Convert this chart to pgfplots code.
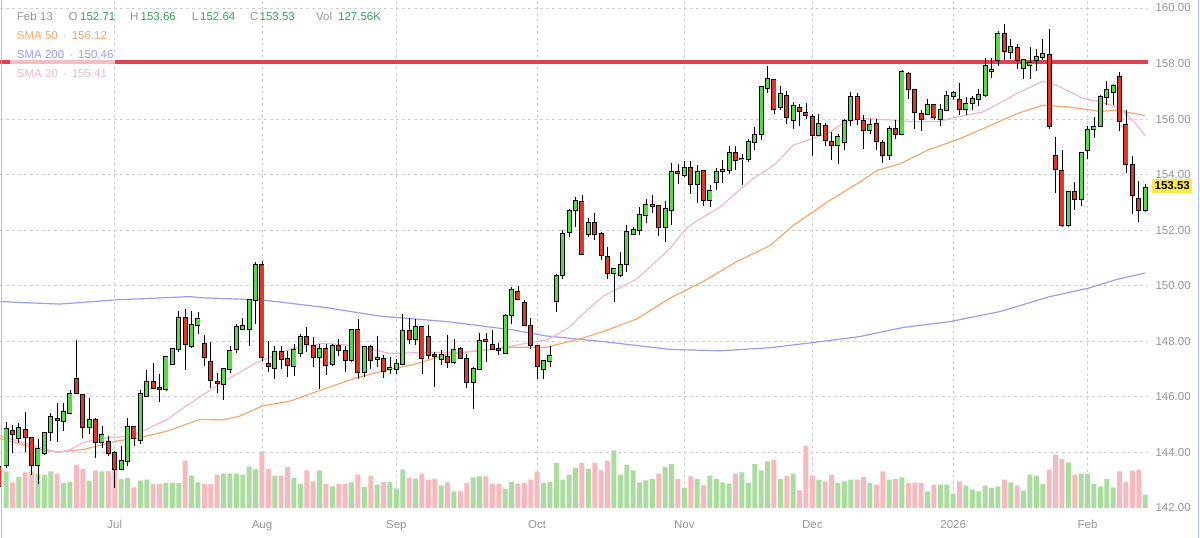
\documentclass[border=0pt]{standalone}
\usepackage{fontspec}
\setmainfont{Liberation Sans}
\usepackage{pgfplots}
\usepackage{pgfplotstable}
\pgfplotsset{compat=1.18}

\definecolor{upc}{RGB}{92,214,74}
\definecolor{dnc}{RGB}{222,56,40}
\definecolor{volup}{RGB}{170,220,160}
\definecolor{voldn}{RGB}{245,185,190}
\definecolor{smaA}{RGB}{245,168,110}
\definecolor{smaB}{RGB}{156,156,240}
\definecolor{smaC}{RGB}{238,182,214}
\definecolor{resline}{RGB}{221,66,84}
\definecolor{txtgray}{RGB}{150,150,150}
\definecolor{numgreen}{RGB}{52,160,90}
\definecolor{tagc}{RGB}{255,234,70}
\definecolor{framec}{RGB}{165,198,240}
\definecolor{gridc}{RGB}{208,208,208}

\pgfplotstableread{
i o h l c v
1 143.53 145.10 143.45 144.83 352
3 144.53 145.05 144.35 144.89 298
6 143.53 144.50 142.85 144.11 330
7 143.97 144.71 143.90 144.71 320
8 144.74 145.41 144.41 145.28 352
10 145.13 145.77 144.77 145.47 240
11 145.41 146.25 145.38 146.09 250
14 144.93 145.97 144.65 145.17 262
16 144.38 144.95 144.17 144.64 352
19 143.39 144.23 143.37 143.68 278
20 143.68 145.25 143.51 144.93 288
22 144.45 146.25 144.29 146.09 262
23 146.03 146.97 146.00 146.54 272
26 146.27 147.47 146.21 147.45 240
27 147.18 147.75 147.15 147.72 240
28 147.72 149.10 147.60 148.83 240
30 147.84 149.10 147.75 148.60 310
31 148.58 149.06 148.26 148.82 246
35 146.45 147.04 145.90 147.02 330
36 147.02 147.84 146.85 147.66 330
37 147.72 148.62 147.57 148.52 330
38 148.45 148.84 148.40 148.55 320
39 148.44 149.52 147.84 149.48 400
40 149.50 150.84 148.62 150.75 374
43 147.05 147.84 146.63 147.62 310
46 147.12 147.90 146.75 147.69 288
47 147.57 148.26 147.42 148.16 230
50 147.42 147.90 146.27 147.72 362
52 147.18 147.90 147.10 147.84 208
55 147.33 148.41 147.24 148.41 246
57 146.88 147.84 146.70 147.78 202
59 147.36 148.20 147.06 147.40 224
61 147.02 147.43 146.83 147.05 250
62 147.01 147.37 146.83 147.19 186
63 147.19 148.99 147.15 148.36 368
65 148.09 148.79 147.85 148.51 282
69 147.35 147.67 147.13 147.49 218
71 147.25 148.09 147.19 147.67 160
74 146.53 147.07 145.57 146.99 294
75 146.99 148.31 146.97 148.01 304
79 147.59 149.00 147.55 148.91 186
80 148.93 149.96 148.63 149.84 250
85 146.99 147.31 146.65 147.28 240
86 147.28 147.83 147.07 147.47 250
87 149.44 150.44 149.04 150.35 432
88 150.38 152.00 150.26 151.88 272
89 151.92 152.78 151.76 152.70 320
90 152.72 153.20 152.12 153.05 384
92 151.87 152.44 151.75 152.27 374
96 150.46 150.63 149.41 150.61 554
97 150.39 151.21 150.31 150.73 320
98 150.79 152.20 150.49 151.93 416
99 151.87 152.11 151.83 151.99 362
100 151.99 152.83 151.81 152.56 246
101 152.56 153.13 152.27 152.89 266
102 152.88 153.28 152.63 152.90 278
104 152.11 153.04 151.57 152.75 394
105 152.71 154.43 152.17 154.09 422
107 153.97 154.48 153.91 154.24 192
109 153.67 154.33 152.99 154.09 278
111 153.07 153.61 152.83 153.40 310
112 153.73 154.24 153.43 154.09 278
113 154.13 154.51 153.71 154.16 246
114 154.15 155.03 154.03 154.79 234
116 154.55 154.75 153.64 154.58 342
117 154.57 155.30 154.45 155.18 240
118 155.18 155.72 154.87 155.44 422
119 155.48 157.16 155.24 157.16 362
120 157.12 157.92 156.95 157.43 448
122 156.44 157.19 156.32 156.92 278
124 155.96 156.62 155.66 156.47 330
128 155.42 156.20 155.39 155.84 272
131 155.06 155.48 154.37 155.36 240
132 155.18 155.99 154.87 155.92 256
133 155.96 156.98 155.75 156.80 272
136 155.60 156.02 155.48 155.80 240
139 154.72 155.75 154.51 155.66 272
141 155.48 157.76 155.46 157.70 294
145 156.20 156.74 156.16 156.50 160
147 156.02 156.56 155.75 156.32 224
148 156.32 157.00 156.30 156.83 224
149 156.83 157.00 156.68 156.95 138
151 156.35 156.80 156.14 156.56 214
152 156.59 156.83 156.32 156.74 176
153 156.74 157.07 156.47 156.86 160
154 156.86 158.20 156.80 157.92 214
155 157.74 158.20 157.48 157.78 192
156 158.12 159.17 157.92 159.08 208
158 158.40 158.88 158.18 158.60 246
160 157.84 158.16 157.44 158.12 166
161 157.95 158.60 157.46 158.02 320
162 158.12 158.54 157.72 158.24 310
163 158.24 158.88 158.12 158.36 230
167 152.17 153.40 152.10 153.37 438
169 153.11 154.81 152.87 154.78 330
170 154.88 155.75 154.57 155.60 330
171 155.66 156.08 155.32 155.70 230
172 155.75 156.88 155.72 156.80 208
173 156.80 157.36 156.52 157.04 278
174 156.98 157.28 156.52 157.19 198
179 152.71 153.66 152.64 153.53 127.56
}\up

\pgfplotstableread{
i o h l c v
0 143.48 143.55 142.72 142.78 0
2 144.77 144.98 143.99 144.65 246
4 144.81 145.47 144.01 144.57 342
5 144.53 144.55 143.20 143.53 352
9 145.20 145.77 144.37 145.18 330
12 146.63 148.05 146.10 146.13 416
13 146.06 146.08 144.53 144.92 374
15 145.17 145.25 143.81 144.38 362
17 144.38 144.59 143.87 143.99 352
18 143.97 144.05 142.73 143.41 368
21 144.93 144.95 144.23 144.53 198
24 146.54 147.21 146.30 146.33 230
25 146.31 146.81 145.80 146.29 230
29 148.83 149.16 146.96 147.90 454
32 147.90 148.22 147.12 147.42 230
33 147.27 147.96 146.33 146.61 230
34 146.55 146.85 146.15 146.50 320
41 150.75 150.90 147.30 147.42 544
42 147.20 148.00 146.90 147.10 374
44 147.62 147.84 147.00 147.38 310
45 147.36 147.66 146.70 147.14 394
48 148.16 148.50 147.60 147.90 362
49 147.84 148.16 147.09 147.42 256
51 147.74 147.90 146.78 147.14 230
53 147.84 148.10 147.48 147.68 230
54 147.66 147.84 146.90 147.33 230
56 148.41 148.80 146.63 146.90 320
58 147.78 147.86 147.02 147.33 310
60 147.37 147.50 146.68 146.94 250
64 148.36 148.84 147.91 148.09 288
66 148.51 148.55 146.83 147.40 330
67 148.15 148.57 147.37 147.52 272
68 147.52 147.61 146.35 147.48 282
70 147.43 148.21 147.04 147.25 250
72 147.73 147.79 147.37 147.40 160
73 147.37 147.55 146.31 146.53 240
76 148.05 148.31 147.25 148.01 304
77 147.88 148.39 147.70 147.73 234
78 147.72 147.95 147.52 147.70 234
81 149.78 149.99 149.48 149.51 234
82 149.39 149.48 148.55 148.57 240
83 148.55 148.84 147.71 147.85 272
84 147.83 147.85 146.63 147.11 349
91 153.01 153.28 151.10 151.15 432
93 152.27 152.63 151.63 151.87 432
94 151.87 151.93 150.91 151.09 362
95 151.03 151.39 150.25 150.46 454
103 152.87 152.90 151.79 152.11 330
106 154.09 154.39 153.67 154.05 278
108 154.24 154.48 153.31 153.67 304
110 154.12 154.14 152.87 153.07 218
115 154.79 155.03 154.15 154.51 330
121 157.40 157.42 156.20 156.35 464
123 156.83 157.00 155.84 156.08 310
125 156.41 156.56 155.75 156.29 170
126 156.23 156.59 156.02 156.14 598
127 156.08 156.20 154.67 155.44 310
129 155.75 155.87 155.03 155.24 256
130 155.18 155.54 154.51 155.06 320
134 156.80 156.95 155.78 156.02 272
135 155.92 156.14 154.94 155.60 298
137 155.84 156.02 154.87 155.20 224
138 155.14 155.24 154.43 154.72 352
140 155.66 155.96 155.30 155.48 278
142 157.64 157.70 156.74 157.07 240
143 157.04 157.06 155.66 156.26 240
144 156.20 156.32 155.56 155.99 240
146 156.52 156.54 155.96 156.08 224
150 156.70 157.31 156.14 156.38 256
157 159.08 159.44 158.12 158.44 272
159 158.56 158.69 157.82 158.12 214
164 158.30 159.24 155.66 155.75 368
165 154.67 155.36 153.35 154.19 512
166 154.12 154.88 152.11 152.17 470
168 153.37 153.73 152.71 153.11 320
175 157.52 157.68 155.56 155.92 352
176 155.78 156.32 154.07 154.39 250
177 154.36 154.67 152.59 153.28 358
178 153.11 153.76 152.29 152.71 368
}\dn

\pgfplotsset{
  /pgf/number format/.cd, fixed, fixed zerofill, precision=2, assume math mode=true,
  /pgfplots/.cd,
  base/.style={scale only axis, width=1148pt, height=508pt,
    xmin=0.0625, xmax=179.44, at={(0pt,0pt)}, anchor=south west},
  nomark/.style={only marks, mark=none, mark size=0pt,
    mark options={draw=none, fill=none}, forget plot},
  wick/.style={nomark,
    error bars/.cd, y dir=minus, y explicit, error mark=none,
    error bar style={draw=black, line width=0.9pt}},
  body/.style 2 args={nomark,
    error bars/.cd, y dir=minus, y explicit, error mark=none,
    error bar style={draw=#1, line width=#2}},
}

\begin{document}
\begin{tikzpicture}
\useasboundingbox (0pt,-30pt) rectangle (1200pt,508pt);

% grid and tick labels
\begin{axis}[base, ymin=142, ymax=160.287,
  axis line style={draw=none}, major tick length=0pt,
  xtick={18,41,62,84,107,127,149,170},
  xticklabels={Jul,Aug,Sep,Oct,Nov,Dec,2026,Feb},
  ytick={144,146,...,160}, extra y ticks={142},
  extra y tick style={grid=none},
  yticklabel pos=right,
  grid=major,
  major grid style={gridc, dash pattern=on 3pt off 3pt, line width=0.8pt},
  tick label style={font=\fontsize{11.5}{13}\selectfont, text=txtgray},
  yticklabel style={anchor=west, xshift=4pt},
  xticklabel style={anchor=base, yshift=-20pt},
]
\addplot[draw=none, forget plot] coordinates {(1,150)};
\end{axis}

% volume
\begin{axis}[base, ymin=0, ymax=4876.8, hide axis, ybar, bar width=5pt, bar shift=0pt]
\addplot[fill=volup, draw=none] table[x=i, y=v]{\up};
\addplot[fill=voldn, draw=none] table[x=i, y=v]{\dn};
\end{axis}

% price
\begin{axis}[base, ymin=142, ymax=160.287, hide axis, clip mode=individual]
\addplot[resline, line width=4pt] coordinates {(0,158.07) (180,158.07)};
% SMA 200
\addplot[smaB, line width=1.2pt] coordinates {
(0.06,149.43) (9.4,149.34) (18.0,149.49) (29.75,149.61) (31.3,149.57) (41,149.49)
(50.5,149.23) (59.4,148.91) (69.9,148.71) (80.2,148.41) (85.5,148.19) (90.7,148.07)
(94.3,147.99) (104.7,147.71) (112.6,147.66) (120.4,147.77) (126.9,147.95) (134.4,148.17)
(141.2,148.5) (148.5,148.71) (156.3,149.07) (164.1,149.61) (170.1,149.91) (174.6,150.23)
(179,150.46)};
% SMA 50
\addplot[smaA, line width=1.2pt] coordinates {
(0.06,144.5) (6.8,144.08) (9.1,144.02) (13,144.1) (18.3,144.41) (21.9,144.53)
(26.2,144.77) (31.3,145.19) (34.9,145.17) (37.6,145.31) (41,145.67) (45.4,145.85)
(50.5,146.27) (55.8,146.69) (61,146.99) (64.6,147.16) (69.9,147.52) (75.1,147.67)
(80.2,147.79) (85.5,147.79) (90.7,148.09) (94.3,148.35) (99.6,148.81) (104.7,149.55)
(109.9,150.15) (115.2,150.87) (120.4,151.45) (124,152.17) (129.3,153.01) (134.4,153.73)
(137.1,154.15) (140.7,154.39) (144.9,154.87) (150.1,155.3) (153.7,155.66) (159,156.2)
(163,156.5) (166.8,156.44) (171.9,156.28) (174.6,156.32) (179,156.12)};
% SMA 20
\addplot[smaC, line width=1.2pt] coordinates {
(0.06,144.6) (5.2,144.25) (9.1,144.0) (11,144.1) (13,144.35) (15.7,144.5) (20.8,144.6)
(26.2,145.19) (29.75,145.77) (31.3,146.0) (34.9,146.54) (40.2,147.24) (45.4,147.72)
(50.5,147.93) (55.8,147.84) (61,147.56) (67.2,147.61) (72.4,147.61) (77.7,147.73)
(81.8,147.91) (85.5,148.05) (89,148.5) (91.2,149.0) (94.3,149.62) (99.6,150.25)
(104.7,151.33) (107.4,152.1) (109.9,152.47) (112.6,152.83) (115.2,153.37) (117.7,153.85)
(120.4,154.25) (121.5,154.45) (124,155.06) (129.3,155.48) (131.8,155.84) (134.4,156.02)
(137.1,156.0) (139.6,155.96) (143.3,155.9) (146.9,155.92) (150.1,156.1) (153.7,156.26)
(159,156.92) (163,157.36) (165.2,157.22) (169.3,156.74) (171.9,156.62) (174.6,156.44)
(177.1,155.96) (179,155.41)};
% wicks
\addplot[wick] table[x=i, y=h, y error minus expr=\thisrow{h}-\thisrow{l}]{\up};
\addplot[wick] table[x=i, y=h, y error minus expr=\thisrow{h}-\thisrow{l}]{\dn};
% body outlines
\addplot[body={black}{5pt}] table[x=i, y expr=\thisrow{c}+0.036, y error minus expr=\thisrow{c}-\thisrow{o}+0.072]{\up};
\addplot[body={black}{5pt}] table[x=i, y expr=\thisrow{o}+0.036, y error minus expr=\thisrow{o}-\thisrow{c}+0.072]{\dn};
% body fills
\addplot[body={upc}{3.1pt}] table[x=i, y=c, y error minus expr=\thisrow{c}-\thisrow{o}]{\up};
\addplot[body={dnc}{3.1pt}] table[x=i, y=o, y error minus expr=\thisrow{o}-\thisrow{c}]{\dn};
\end{axis}

% frame lines
\draw[framec, line width=1pt] (1.5pt,-30pt) -- (1.5pt,508pt);
\draw[framec, line width=1pt] (1198pt,-30pt) -- (1198pt,508pt);

% legend background
\fill[white, opacity=0.65] (10pt,442.5pt) rectangle (115pt,450.5pt);

% header
\begin{scope}[every node/.style={anchor=base west, inner sep=0pt, font=\fontsize{11.5}{13}\selectfont}]
\node[text=txtgray] at (16.7pt,487.3pt) {Feb 13};
\node[text=txtgray] at (68.3pt,487.3pt) {O};
\node[text=numgreen] at (80pt,487.3pt) {152.71};
\node[text=txtgray] at (130pt,487.3pt) {H};
\node[text=numgreen] at (140.5pt,487.3pt) {153.66};
\node[text=txtgray] at (191.7pt,487.3pt) {L};
\node[text=numgreen] at (200pt,487.3pt) {152.64};
\node[text=txtgray] at (250pt,487.3pt) {C};
\node[text=numgreen] at (259.5pt,487.3pt) {153.53};
\node[text=txtgray] at (316pt,487.3pt) {Vol};
\node[text=numgreen] at (338pt,487.3pt) {127.56K};
\node[text=smaA] at (16.7pt,468.7pt) {SMA 50 \,·\, 156.12};
\node[text=smaB] at (16.7pt,449pt) {SMA 200 \,·\, 150.46};
\node[text=smaC] at (16.7pt,430.7pt) {SMA 20 \,·\, 155.41};
\end{scope}

% last price tag
\node[fill=tagc, text=black, inner xsep=2.5pt, inner ysep=2.5pt, anchor=west,
  font=\fontsize{11.5}{13}\selectfont\bfseries] at (1152pt,322pt) {153.53};
\end{tikzpicture}
\end{document}
